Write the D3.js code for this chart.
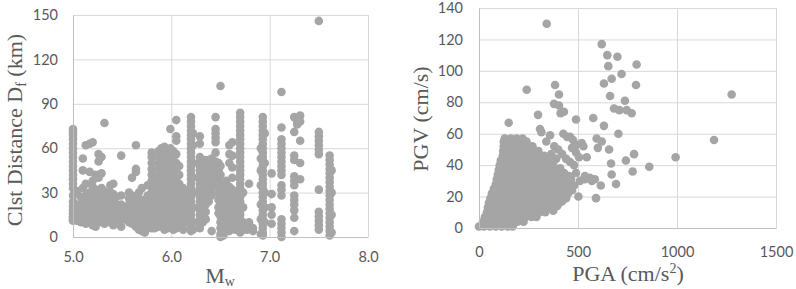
<!DOCTYPE html>
<html>
<head>
<meta charset="utf-8">
<script src="https://cdn.jsdelivr.net/npm/d3@7"></script>
<style>
  body { margin: 0; background: #fff; }
</style>
</head>
<body>
<div id="chart"></div>
<script>
// ---- left panel: Mw vs closest distance (one column of distances per magnitude) ----
const mwColumns = [5.00, 5.04, 5.08, 5.10, 5.13, 5.17, 5.20, 5.23, 5.26, 5.29, 5.32, 5.35, 5.38, 5.41, 5.44,
    5.47, 5.49, 5.52, 5.57, 5.60, 5.64, 5.67, 5.70, 5.73, 5.76, 5.80, 5.83, 5.87, 5.90, 5.93, 5.96, 5.99,
    6.02, 6.05, 6.08, 6.12, 6.15, 6.20, 6.22, 6.29, 6.32, 6.35, 6.38, 6.41, 6.45, 6.48, 6.50, 6.53, 6.56,
    6.59, 6.62, 6.65, 6.70, 6.73, 6.77, 6.79, 6.83, 6.91, 6.93, 6.95, 7.02, 7.12, 7.25, 7.28, 7.31, 7.50,
    7.61, 7.63];

const distColumns = [
    [73, 71, 69, 66, 63, 60, 57, 54, 51, 48, 45, 42, 39, 36, 33, 28, 24, 21, 18, 16, 14, 13, 12, 11],
    [31, 22, 18, 15, 13, 11],
    [27, 20, 17, 14, 12, 10],
    [53, 45, 33, 24, 19, 16, 12],
    [62, 36, 28, 21, 17, 14, 11, 9],
    [63, 44, 30, 25, 20, 16, 13, 10],
    [64, 38, 34, 27, 22, 18, 14, 12, 8],
    [42, 32, 26, 21, 17, 13, 7],
    [56, 51, 40, 29, 24, 19, 15, 11],
    [54, 43, 33, 27, 22, 18, 14, 10],
    [77, 31, 25, 20, 16, 12, 9],
    [28, 23, 19, 15, 12],
    [35, 30, 26, 21, 17, 13, 10],
    [36, 29, 24, 20, 16, 11, 8],
    [27, 22, 18, 14],
    [20, 17, 14, 11],
    [55, 28, 22, 16, 7],
    [19, 15, 12],
    [30, 26, 22, 18, 14, 10],
    [40, 28, 24, 20, 16, 12, 9],
    [62, 46, 44, 25, 21, 17, 13, 10, 7],
    [30, 22, 18, 14, 11, 8, 5],
    [33, 25, 19, 15, 12, 9, 6, 4],
    [24, 20, 16, 13, 10, 7, 3],
    [35, 28, 22, 18, 14, 10, 6],
    [57, 54, 50, 46, 42, 38, 34, 30, 26, 22, 18, 14, 10, 6],
    [37, 32, 26, 20, 15, 9, 6],
    [58, 54, 50, 46, 42, 38, 34, 30, 26, 22, 18, 14, 10, 7],
    [60, 56, 52, 48, 44, 40, 36, 32, 28, 24, 20, 16, 12, 8],
    [61, 57, 53, 49, 45, 41, 37, 33, 29, 25, 21, 17, 13, 9, 5],
    [59, 55, 51, 47, 43, 39, 35, 31, 27, 23, 19, 15, 11, 6],
    [73, 60, 56, 52, 48, 44, 40, 36, 32, 28, 24, 20, 16, 12, 8],
    [58, 54, 50, 46, 42, 38, 34, 30, 26, 22, 18, 14, 10, 5],
    [79, 68, 65, 56, 50, 45, 40, 35, 30, 25, 20, 15, 10, 6],
    [48, 42, 36, 31, 26, 21, 16, 11, 7],
    [33, 28, 23, 18, 13, 9, 5],
    [30, 24, 19, 14, 10],
    [81, 78, 75, 72, 69, 66, 63, 60, 57, 54, 51, 48, 45, 42, 39, 36, 33, 30, 27, 24, 21, 18, 15, 12, 9, 6, 4],
    [70, 62, 50, 40, 30, 20, 10, 5],
    [68, 63, 54, 51, 48, 45, 42, 39, 36, 33, 30, 27, 24, 21, 18, 15, 12, 9, 6],
    [50, 45, 40, 35, 30, 25, 20, 15, 10],
    [52, 47, 42, 37, 32, 27, 22, 17, 12],
    [49, 44, 39, 34, 29, 24],
    [53, 48, 43, 38, 33, 28, 4],
    [81, 73, 70, 67, 64, 57, 51, 46, 41, 36],
    [50, 45, 40, 35, 30, 25, 20, 16],
    [102, 48, 42, 36, 30, 26, 22, 18, 14, 10, 6, 2, 0],
    [33, 29, 25, 21, 17, 13, 9, 5, 1],
    [38, 30, 26, 22, 18, 14, 10, 6],
    [62, 56, 50, 34, 28, 24, 20, 16, 12, 8, 4],
    [64, 55, 47, 40, 32, 27, 22, 17, 12, 7],
    [30, 25, 20, 15, 10, 5],
    [84, 81, 78, 75, 72, 69, 66, 63, 60, 57, 54, 51, 48, 45, 42, 39, 36, 33, 30, 27, 24, 21, 18, 15, 12, 9, 6, 3],
    [30, 20, 10, 5],
    [8, 5],
    [36, 10, 6],
    [6, 4],
    [60, 53, 45, 35, 22, 12, 2],
    [81, 78, 75, 72, 69, 66, 63, 60, 57, 54, 51, 48, 45, 42, 39, 36, 33, 30, 27, 24, 21, 18, 15, 12, 9, 6, 3, 1],
    [70, 50, 30, 20, 10],
    [43, 29, 20, 15, 9],
    [98, 74, 66, 63, 60, 57, 54, 51, 48, 45, 42, 35, 32, 28, 12, 9, 6, 3, 0],
    [81, 71, 55, 52, 41, 38, 35, 28, 25, 22, 18, 13, 4],
    [78, 76],
    [82, 78, 65, 50, 39],
    [146, 71, 68, 65, 62, 59, 56, 32, 17, 14, 11, 8, 5],
    [55, 52, 49, 46, 43, 40, 37, 34, 31, 28, 25, 22, 19, 16, 13, 10, 7, 4, 1],
    [45, 30, 15, 3]
];

const mwTicks = [5.0, 6.0, 7.0, 8.0];
const distTicks = [0, 30, 60, 90, 120, 150];

// ---- right panel: PGA vs PGV ----
// dense cloud read row by row (PGV level -> PGA values)
const pgvLevels = [1, 4, 7, 10, 13, 16, 19, 22, 25, 28, 31, 34, 37, 40, 43, 46, 49, 52, 55, 57];
const pgaByLevel = [
    [0, 25, 55, 85, 115, 145, 170],
    [20, 45, 75, 105, 135, 165, 195, 225],
    [30, 55, 85, 115, 145, 175, 205, 235, 265, 290],
    [40, 65, 95, 125, 155, 185, 215, 245, 275, 305, 335],
    [45, 75, 105, 135, 165, 195, 225, 255, 285, 315, 345, 370],
    [50, 80, 110, 140, 170, 200, 230, 260, 290, 320, 350, 380, 405],
    [58, 88, 118, 148, 178, 208, 238, 268, 298, 328, 358, 388, 418, 440],
    [65, 95, 125, 155, 185, 215, 245, 275, 305, 335, 365, 395, 425, 450],
    [75, 105, 135, 165, 195, 225, 255, 285, 315, 345, 375, 405, 435, 460],
    [85, 115, 145, 175, 205, 235, 265, 295, 325, 355, 385, 415, 445],
    [90, 120, 150, 180, 210, 240, 270, 300, 330, 360, 390, 420, 465],
    [95, 125, 155, 185, 215, 245, 275, 305, 335, 365, 395, 430],
    [100, 130, 160, 190, 220, 250, 280, 310, 340, 370, 400],
    [105, 135, 165, 195, 225, 255, 285, 315, 345, 375],
    [110, 140, 170, 200, 230, 260, 290, 320, 350],
    [120, 150, 180, 210, 240, 270, 300, 330],
    [122, 152, 182, 212, 242, 272, 300],
    [125, 155, 185, 215, 245, 270],
    [125, 155, 185, 215, 240],
    [130, 160, 190, 220]
];

// scattered records outside the dense cloud [PGA, PGV]
const scatterPoints = [
    [342, 130], [241, 88], [384, 91], [404, 85], [379, 79], [404, 78], [429, 74], [412, 73], [298, 72],
    [150, 67], [308, 63], [315, 61], [359, 59], [426, 60], [445, 58], [460, 58], [475, 56], [519, 54],
    [527, 52], [493, 53], [544, 45], [400, 50], [420, 47], [440, 44], [460, 42], [480, 40], [410, 38],
    [430, 35], [455, 33], [490, 35], [510, 30], [535, 31], [480, 27], [502, 20], [470, 24], [375, 11],
    [395, 14], [420, 17], [340, 55], [380, 52], [365, 47], [390, 44], [490, 48], [470, 51], [505, 45],
    [620, 117], [648, 110], [699, 109], [796, 104], [653, 103], [720, 98], [670, 95], [631, 92],
    [793, 91], [662, 84], [737, 81], [682, 76], [709, 75], [746, 75], [771, 73], [577, 70], [490, 69],
    [631, 65], [704, 60], [594, 57], [620, 55], [657, 50], [600, 51], [783, 47], [742, 43], [667, 41],
    [993, 45], [860, 39], [776, 36], [670, 34], [692, 28], [615, 27], [591, 19], [570, 30], [585, 31],
    [560, 32], [535, 33], [1276, 85], [1187, 56]
];

const pgaTicks = [0, 500, 1000, 1500];
const pgvTicks = [0, 20, 40, 60, 80, 100, 120, 140];

// 颜色
const dotColor = "#a5a5a5";
const gridColor = "#d9d9d9";
const textColor = "#595959";

const svg = d3.select("#chart")
    .append("svg")
    .attr("width", 796)
    .attr("height", 289);

svg.append("rect")
    .attr("width", 796)
    .attr("height", 289)
    .attr("fill", "#fff");

function drawPanel(p) {
    const x = d3.scaleLinear().domain(p.xDomain).range(p.xRange);
    const y = d3.scaleLinear().domain(p.yDomain).range(p.yRange);
    const plotW = p.xRange[1] - p.xRange[0];
    const plotH = p.yRange[0] - p.yRange[1];

    // gridlines
    svg.append("g")
        .attr("transform", `translate(0,${p.yRange[0]})`)
        .call(d3.axisBottom(x).tickValues(p.xTicks).tickSize(-plotH).tickFormat(""))
        .call(s => s.select(".domain").remove())
        .selectAll("line").attr("stroke", gridColor);

    svg.append("g")
        .attr("transform", `translate(${p.xRange[0]},0)`)
        .call(d3.axisLeft(y).tickValues(p.yTicks).tickSize(-plotW).tickFormat(""))
        .call(s => s.select(".domain").remove())
        .selectAll("line").attr("stroke", gridColor);

    // points
    svg.append("g")
        .selectAll("circle")
        .data(p.points)
        .join("circle")
        .attr("cx", d => x(d[0]))
        .attr("cy", d => y(d[1]))
        .attr("r", 4.3)
        .attr("fill", dotColor);

    // tick labels
    const xAxis = svg.append("g")
        .attr("transform", `translate(0,${p.yRange[0]})`)
        .call(d3.axisBottom(x).tickValues(p.xTicks).tickSize(0).tickPadding(p.xPad).tickFormat(p.xFormat));
    const yAxis = svg.append("g")
        .attr("transform", `translate(${p.xRange[0]},0)`)
        .call(d3.axisLeft(y).tickValues(p.yTicks).tickSize(0).tickPadding(p.yPad));

    [xAxis, yAxis].forEach(a => {
        a.select(".domain").attr("stroke", "#bfbfbf");
        a.selectAll("text")
            .attr("fill", textColor)
            .style("font-family", "Lato, 'Liberation Sans', sans-serif")
            .style("font-size", "14.5px");
    });
}

// left panel
const leftPoints = [];
mwColumns.forEach((mw, i) => distColumns[i].forEach(d => leftPoints.push([mw, d])));

drawPanel({
    xDomain: [5, 8], xRange: [73, 368],
    yDomain: [0, 150], yRange: [237, 15],
    xTicks: mwTicks, yTicks: distTicks,
    xFormat: d3.format(".1f"), xPad: 15, yPad: 15,
    points: leftPoints
});

// right panel
const rightPoints = [];
pgvLevels.forEach((v, i) => pgaByLevel[i].forEach(a => rightPoints.push([a, v])));
scatterPoints.forEach(d => rightPoints.push(d));

drawPanel({
    xDomain: [0, 1500], xRange: [479, 776],
    yDomain: [0, 140], yRange: [228, 8],
    xTicks: pgaTicks, yTicks: pgvTicks,
    xFormat: d3.format("d"), xPad: 19, yPad: 16,
    points: rightPoints
});

// axis titles (serif)
const titleFont = "'Liberation Serif', 'Times New Roman', serif";

const leftYTitle = svg.append("text")
    .attr("transform", "translate(22,130) rotate(-90)")
    .attr("text-anchor", "middle")
    .attr("fill", textColor)
    .style("font-family", titleFont)
    .style("font-size", "22px");
leftYTitle.append("tspan").text("Clst Distance D");
leftYTitle.append("tspan").attr("dy", 4).style("font-size", "14px").text("f");
leftYTitle.append("tspan").attr("dy", -4).text(" (km)");

const leftXTitle = svg.append("text")
    .attr("x", 220)
    .attr("y", 283)
    .attr("text-anchor", "middle")
    .attr("fill", textColor)
    .style("font-family", titleFont)
    .style("font-size", "22px");
leftXTitle.append("tspan").text("M");
leftXTitle.append("tspan").attr("dy", 3).style("font-size", "14px").text("w");

svg.append("text")
    .attr("transform", "translate(428,119) rotate(-90)")
    .attr("text-anchor", "middle")
    .attr("fill", textColor)
    .style("font-family", titleFont)
    .style("font-size", "22px")
    .text("PGV (cm/s)");

const rightXTitle = svg.append("text")
    .attr("x", 628)
    .attr("y", 281)
    .attr("text-anchor", "middle")
    .attr("fill", textColor)
    .style("font-family", titleFont)
    .style("font-size", "22px");
rightXTitle.append("tspan").text("PGA (cm/s");
rightXTitle.append("tspan").attr("dy", -8).style("font-size", "14px").text("2");
rightXTitle.append("tspan").attr("dy", 8).text(")");
</script>
</body>
</html>
